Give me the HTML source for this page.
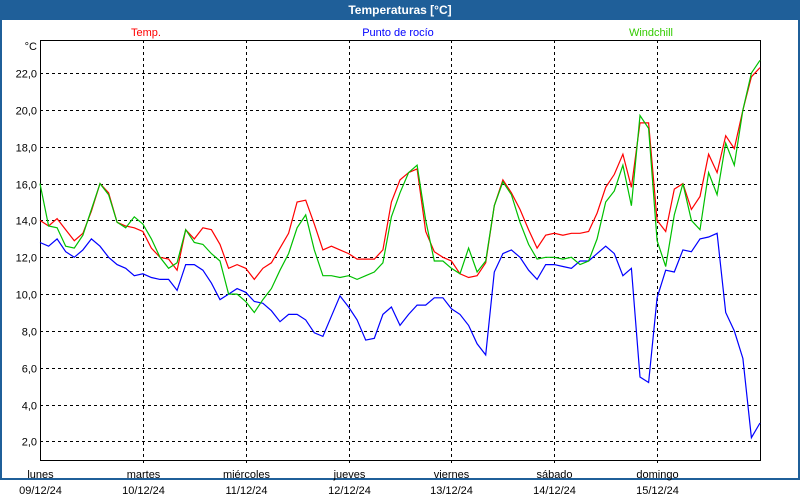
<!DOCTYPE html>
<html><head><meta charset="utf-8"><style>
html,body{margin:0;padding:0;}
body{width:800px;height:500px;overflow:hidden;background:#fff;font-family:"Liberation Sans",sans-serif;}
#frame{position:absolute;left:0;top:0;width:796px;height:478px;border:2px solid #1f5f99;border-top:none;}
#title{position:absolute;left:0;top:0;width:800px;height:20px;background:#1f5f99;color:#fff;font-weight:bold;font-size:12px;line-height:20px;text-align:center;}
</style></head><body>
<div id="frame"></div>
<div id="title">Temperaturas [°C]</div>
<svg id="chart" width="800" height="500" style="position:absolute;left:0;top:0" font-family="Liberation Sans, sans-serif" font-size="11"></svg>
<script>
const days=["lunes","martes","miércoles","jueves","viernes","sábado","domingo"];
const dates=["09/12/24","10/12/24","11/12/24","12/12/24","13/12/24","14/12/24","15/12/24"];
const yTicks=[2,4,6,8,10,12,14,16,18,20,22];
const tempVals=[14.0,13.7,14.1,13.5,12.9,13.3,14.5,16.0,15.5,13.9,13.7,13.6,13.4,12.5,12.0,11.9,11.3,13.5,13.0,13.6,13.5,12.7,11.4,11.6,11.4,10.8,11.4,11.7,12.5,13.3,15.0,15.1,13.8,12.4,12.6,12.4,12.2,11.9,11.9,11.9,12.4,15.0,16.2,16.6,16.8,13.4,12.3,12.0,11.8,11.1,10.9,11.0,11.7,14.8,16.2,15.5,14.6,13.5,12.5,13.2,13.3,13.2,13.3,13.3,13.4,14.4,15.8,16.5,17.6,15.8,19.3,19.3,14.0,13.4,15.7,16.0,14.6,15.3,17.6,16.6,18.6,17.9,20.0,21.8,22.3];
const dewVals=[12.8,12.6,13.0,12.3,12.0,12.4,13.0,12.6,12.0,11.6,11.4,11.0,11.1,10.9,10.8,10.8,10.2,11.6,11.6,11.3,10.6,9.7,10.0,10.3,10.1,9.6,9.5,9.1,8.5,8.9,8.9,8.6,7.9,7.7,8.8,9.9,9.3,8.6,7.5,7.6,8.9,9.3,8.3,8.9,9.4,9.4,9.8,9.8,9.2,8.9,8.3,7.3,6.7,11.2,12.2,12.4,12.0,11.3,10.8,11.6,11.6,11.5,11.4,11.8,11.8,12.2,12.6,12.2,11.0,11.4,5.5,5.2,9.8,11.3,11.2,12.4,12.3,13.0,13.1,13.3,9.0,8.0,6.5,2.2,3.0];
const chillVals=[16.0,13.7,13.6,12.6,12.5,13.2,14.6,16.0,15.4,13.9,13.6,14.2,13.8,13.0,12.0,11.4,11.7,13.5,12.8,12.7,12.2,11.8,10.0,10.0,9.6,9.0,9.7,10.3,11.3,12.2,13.6,14.3,12.4,11.0,11.0,10.9,11.0,10.8,11.0,11.2,11.7,14.2,15.5,16.6,17.0,14.0,11.8,11.8,11.4,11.1,12.5,11.2,11.8,14.8,16.1,15.4,13.9,12.7,11.9,12.0,12.0,11.9,12.0,11.6,11.8,13.0,15.0,15.6,17.0,14.8,19.7,19.0,12.9,11.5,14.3,16.0,14.0,13.5,16.6,15.4,18.2,17.0,20.0,22.0,22.7];
const stepHours=2;
const L=40,R=760,T=40,B=460;
const yMin=0.99,yMax=23.8;
function xHour(h){return L+(R-L)*h/168;}
function yv(v){return B-(v-yMin)/(yMax-yMin)*(B-T);}
const svg=document.getElementById('chart');
const NS="http://www.w3.org/2000/svg";
function mk(tag,attrs){const e=document.createElementNS(NS,tag);for(const k in attrs)e.setAttribute(k,attrs[k]);svg.appendChild(e);return e;}
// grid
yTicks.forEach(t=>{
  const y=Math.round(yv(t))+0.5;
  const g=mk('line',{x1:L,x2:R,y1:y,y2:y,stroke:'#000','stroke-dasharray':'3,3'});
  
  
  const lb=mk('text',{x:37,y:y+4,'text-anchor':'end',fill:'#000'});
  lb.textContent=t.toFixed(1).replace('.',',');
  
  
});
days.forEach((d,i)=>{
  const x=Math.round(xHour(i*24))+0.5;
  if(i>0){
    const g=mk('line',{x1:x,x2:x,y1:T,y2:B+4,stroke:'#000','stroke-dasharray':'3,3'});
    
    
  }
  const t1=mk('text',{x:x,y:478,'text-anchor':'middle',fill:'#000'});
  t1.textContent=d;
  
  
  const t2=mk('text',{x:x,y:494,'text-anchor':'middle',fill:'#000'});
  t2.textContent=dates[i];
  
  
});
const box=mk('rect',{x:L+0.5,y:T+0.5,width:R-L,height:B-T,fill:'none',stroke:'#000'});


const unit=mk('text',{x:37,y:50,'text-anchor':'end',fill:'#000'});
unit.textContent='°C';


function series(vals,color,name){
  const pts=vals.map((v,i)=>xHour(i*stepHours).toFixed(1)+','+yv(v).toFixed(1)).join(' ');
  const p=mk('polyline',{points:pts,fill:'none',stroke:color,'stroke-width':1.2});
  
  
}
series(dewVals,'#0000ff','dewpoint-line');
series(tempVals,'#ff0000','temp-line');
series(chillVals,'#00c000','windchill-line');
const leg=[['Temp.','#ff0000',146,'legend-temp'],['Punto de rocío','#0000ff',398,'legend-dewpoint'],['Windchill','#33cc00',651,'legend-windchill']];
leg.forEach(l=>{
  const t=mk('text',{x:l[2],y:36,'text-anchor':'middle',fill:l[1]});
  t.textContent=l[0];
  
  
});
</script>
</body></html>
